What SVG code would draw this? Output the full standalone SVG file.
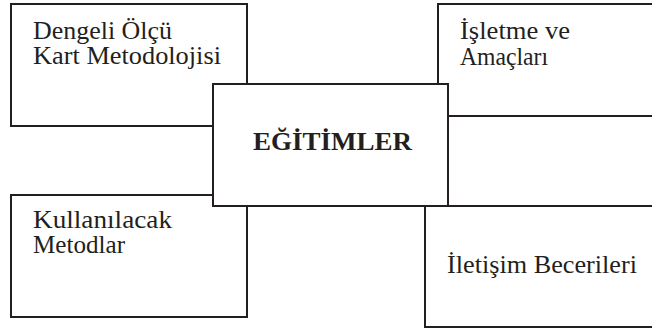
<svg xmlns="http://www.w3.org/2000/svg" width="652" height="329" viewBox="0 0 652 329">
  <style>
    .box { fill: #ffffff; stroke: #231f20; stroke-width: 2; }
    .lbl { font-family: "Liberation Serif", "Times New Roman", serif; font-size: 25px; fill: #231f20; }
    .main { font-family: "Liberation Serif", "Times New Roman", serif; font-size: 26px; font-weight: bold; fill: #231f20; }
  </style>
  <rect width="652" height="329" fill="#ffffff"/>
  <g id="connectors"></g>
  <g id="node-dengeli">
    <rect class="box" x="11" y="4" width="236" height="122"/>
    <text class="lbl" x="33" y="39" textLength="139" lengthAdjust="spacingAndGlyphs">Dengeli Ölçü</text>
    <text class="lbl" x="33" y="64" textLength="188" lengthAdjust="spacingAndGlyphs">Kart Metodolojisi</text>
  </g>
  <g id="node-isletme">
    <rect class="box" x="438" y="4" width="230" height="112"/>
    <text class="lbl" x="460" y="39" textLength="110" lengthAdjust="spacingAndGlyphs">İşletme ve</text>
    <text class="lbl" x="460" y="65" textLength="88" lengthAdjust="spacingAndGlyphs">Amaçları</text>
  </g>
  <g id="node-kullanilacak">
    <rect class="box" x="11" y="195" width="236" height="122"/>
    <text class="lbl" x="33" y="228" textLength="139" lengthAdjust="spacingAndGlyphs">Kullanılacak</text>
    <text class="lbl" x="33" y="253" textLength="92" lengthAdjust="spacingAndGlyphs">Metodlar</text>
  </g>
  <g id="node-iletisim">
    <rect class="box" x="425" y="206" width="240" height="121"/>
    <text class="lbl" x="447" y="273" textLength="190" lengthAdjust="spacingAndGlyphs">İletişim Becerileri</text>
  </g>
  <g id="node-egitimler">
    <rect class="box" x="213" y="84" width="235" height="122"/>
    <text class="main" x="253" y="150" textLength="159" lengthAdjust="spacingAndGlyphs">EĞİTİMLER</text>
  </g>
</svg>
